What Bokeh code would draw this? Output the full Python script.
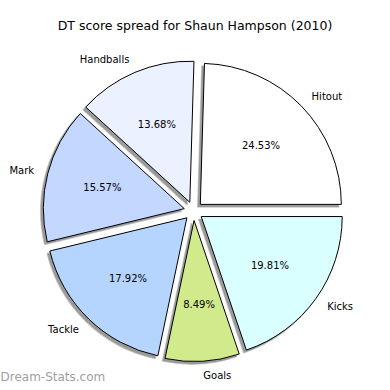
import numpy as np
from bokeh.plotting import figure
from bokeh.models import Range1d, ColumnDataSource
from bokeh.core.properties import value
from bokeh.embed import file_html
from bokeh.resources import INLINE

title = "DT score spread for Shaun Hampson (2010)"
labels = ["Hitout", "Handballs", "Mark", "Tackle", "Goals", "Kicks"]
values = [24.53, 13.68, 15.57, 17.92, 8.49, 19.81]
colors = ["#FFFFFF", "#EBF1FF", "#C4D7FF", "#B5D5FF", "#D1EA8C", "#D9FFFF"]
watermark = "Dream-Stats.com"

# geometry (data units are pixels, y upward; data y = 390 - image y)
CX, CY = 193.0, 179.5
R = 141.0
EXPLODE = 9.5
SH = 2.6

W = H = 382
p = figure(width=W, height=H, output_backend="svg", toolbar_location=None,
           x_range=Range1d(0, W), y_range=Range1d(390 - H, 390), min_border=0)
p.axis.visible = False
p.grid.visible = False
p.outline_line_color = None
p.background_fill_color = "white"

vals = np.array(values)
frac = vals / vals.sum()
ends = np.cumsum(frac) * 2 * np.pi
starts = ends - frac * 2 * np.pi
mids = (starts + ends) / 2
cx = CX + EXPLODE * np.cos(mids)
cy = CY + EXPLODE * np.sin(mids)

src = ColumnDataSource(dict(
    x=cx, y=cy, sx=cx - SH, sy=cy - SH, start=starts, end=ends, color=colors,
    lx=cx + 1.1 * R * np.cos(mids), ly=cy + 1.1 * R * np.sin(mids),
    px=cx + 0.6 * R * np.cos(mids), py=cy + 0.6 * R * np.sin(mids),
    label=labels, pct=["%.2f%%" % v for v in values],
    align=["left" if np.cos(m) > 0 else "right" for m in mids],
))

p.wedge(x="sx", y="sy", radius=R, start_angle="start", end_angle="end",
        source=src, fill_color="#7a7a7a", fill_alpha=0.75, line_color="#9a9a9a", line_width=1.5, line_alpha=0.5)
p.wedge(x="x", y="y", radius=R, start_angle="start", end_angle="end",
        source=src, fill_color="color", line_color="black", line_width=1)

p.text(x="lx", y="ly", text="label", source=src, text_align="align",
       text_baseline="middle", text_font=value("DejaVu Sans"),
       text_font_size="10px", text_color="black")
p.text(x="px", y="py", text="pct", source=src, text_align="center",
       text_baseline="middle", text_font=value("DejaVu Sans"),
       text_font_size="10px", text_color="black")

p.text(x=[194.5], y=[390 - 25], text=[title], text_align="center",
       text_baseline="middle", text_font=value("DejaVu Sans"),
       text_font_size="12.5px", text_color="black")
p.text(x=[0], y=[390 - 376], text=[watermark], text_align="left",
       text_baseline="middle", text_font=value("DejaVu Sans"),
       text_font_size="12px", text_color="#a0a0a0")

open("out.html", "w").write(file_html(p, INLINE))
